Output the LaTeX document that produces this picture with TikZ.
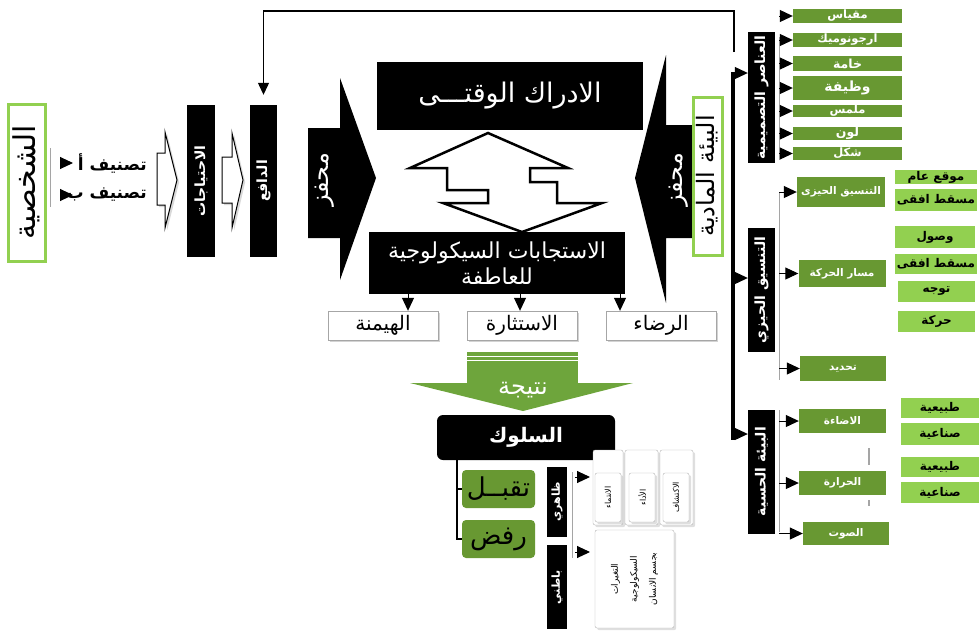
\documentclass[tikz,border=0pt]{standalone}
\usepackage{fontspec}
\newfontfamily\arabicfont[Script=Arabic]{DejaVu Sans}
\TeXXeTstate=1
\usetikzlibrary{arrows.meta,shadows}
\newcommand{\artxt}[1]{{\arabicfont\beginR #1\endR}}

\definecolor{dkgreen}{RGB}{104,152,50}
\definecolor{ltgreen}{RGB}{146,208,80}
\definecolor{arrowgreen}{RGB}{110,165,60}
\definecolor{railgray}{RGB}{165,165,165}

\tikzset{
  blackbar/.style={fill=black, text=white, inner sep=0pt, rotate=90},
  greenframe/.style={draw=ltgreen, line width=3pt, fill=white, inner sep=0pt},
  dkbox/.style={fill=dkgreen, text=white, inner sep=0pt, font=\bfseries\fontsize{10.5}{11}\selectfont},
  ltbox/.style={fill=ltgreen, text=black, inner sep=0pt, font=\bfseries\fontsize{12}{13}\selectfont},
  whitebox/.style={draw=gray!70, fill=white, drop shadow={opacity=0.35}, inner sep=0pt, minimum width=110, minimum height=29, font=\fontsize{20}{22}\selectfont},
  card/.style={draw=gray!60, fill=white, rounded corners=2pt, inner sep=0pt, drop shadow={opacity=0.25}},
  hollow/.style={draw=black, line width=1pt, fill=white, drop shadow={opacity=0.3}},
  rail/.style={draw=railgray, line width=1pt},
  tri/.style={-{Triangle[length=13pt,width=12pt]}, line width=1pt}
}

\begin{document}
\begin{tikzpicture}[x=1pt,y=-1pt]
\useasboundingbox (0,0) rectangle (979,630);

% Left side: personality, classes, needs, drive
\node[greenframe, rotate=90, minimum width=157, minimum height=37, font=\fontsize{30}{32}\selectfont] (shakhsiya) at (26.5,182.5) {\artxt{الشخصية}};
\coordinate (railL) at (50,148);
\coordinate (railLend) at (50,207);
\draw[rail] (railL) -- (railLend);
\node[anchor=east, inner sep=0pt, font=\bfseries\fontsize{17}{18}\selectfont] (classA) at (147,163) {\artxt{تصنيف أ}};
\node[anchor=east, inner sep=0pt, font=\bfseries\fontsize{17}{18}\selectfont] (classB) at (147,195) {\artxt{تصنيف ب}};
\coordinate (bulA) at (73,163);
\coordinate (bulB) at (73,195);
\draw[tri, shorten <=10pt] (railL |- bulA) -- (bulA);
\draw[tri, shorten <=10pt] (railL |- bulB) -- (bulB);

\draw[hollow] (157,153) -- (165,153) -- (165,132) -- (177,180) -- (165,228) -- (165,205) -- (157,205) -- cycle;
\node[blackbar, minimum width=152, minimum height=28, font=\bfseries\fontsize{14}{15}\selectfont] (ihtiyajat) at (201,181) {\artxt{الاحتياجات}};
\draw[hollow] (222,157) -- (232,157) -- (232,133) -- (243,180) -- (232,228) -- (232,203) -- (222,203) -- cycle;
\node[blackbar, minimum width=152, minimum height=27, font=\bfseries\fontsize{14}{15}\selectfont] (dafi3) at (263.5,181) {\artxt{الدافع}};

% Feedback line from the environment side
\coordinate (fbstart) at (734,52);
\coordinate (fbcorner) at (734,11);
\draw[line width=1.2pt, -{Triangle[length=12pt,width=11pt]}] (fbstart) -- (fbcorner) -| ([yshift=10pt]dafi3.east);

% Stimulus arrows
\fill[black] (308,128) -- (340,128) -- (340,78) -- (376,178) -- (340,280) -- (340,238) -- (308,238) -- cycle;
\node[rotate=90, text=white, font=\fontsize{24}{26}\selectfont] (mohafizL) at (325,180) {\artxt{محفز}};
\fill[black] (700,125) -- (666,125) -- (666,55) -- (635,178) -- (666,303) -- (666,238) -- (700,238) -- cycle;
\node[rotate=90, text=white, font=\fontsize{24}{26}\selectfont] (mohafizR) at (679,180) {\artxt{محفز}};

% Center blocks
\node[fill=black, text=white, minimum width=266, minimum height=68, inner sep=0pt, font=\fontsize{27}{29}\selectfont] (idrak) at (510,96) {\artxt{الادراك الوقتـــى}};
\draw[line width=2.5pt, fill=white] (410,168) -- (488,133) -- (568,168) -- (530,168) -- (530,182) -- (557,182) -- (557,203) -- (602,203) -- (522,232) -- (443,203) -- (488,203) -- (488,190) -- (447,190) -- (447,168) -- cycle;
\node[fill=black, text=white, minimum width=256, minimum height=62, inner sep=0pt, align=center, font=\fontsize{22}{26}\selectfont] (istijabat) at (497,263) {\artxt{الاستجابات السيكولوجية}\\\artxt{للعاطفة}};

\node[whitebox] (haymana) at (383,325.5) {\artxt{الهيمنة}};
\node[whitebox] (istithara) at (522,325.5) {\artxt{الاستثارة}};
\node[whitebox] (rida) at (661,325.5) {\artxt{الرضاء}};
\coordinate (tipA) at ([xshift=25pt]haymana.north);
\coordinate (tipB) at ([xshift=-2pt]istithara.north);
\coordinate (tipC) at ([xshift=-41pt]rida.north);
\draw[tri] (tipA |- istijabat.south) -- (tipA);
\draw[tri] (tipB |- istijabat.south) -- (tipB);
\draw[tri] (tipC |- istijabat.south) -- (tipC);

% Result arrow
\fill[arrowgreen] (467,352) rectangle (578,384);
\fill[arrowgreen] (410,383) -- (633,383) -- (523,411) -- cycle;
\draw[white, line width=0.8pt] (467,356) -- (578,356);
\draw[white, line width=0.8pt] (467,360) -- (578,360);
\node[text=white, font=\fontsize{24}{26}\selectfont] (natija) at (523,390) {\artxt{نتيجة}};

% Behaviour
\node[fill=black, text=white, rounded corners=6pt, minimum width=178, minimum height=45, inner sep=0pt, font=\bfseries\fontsize{20}{22}\selectfont] (suluk) at (526,437.5) {\artxt{السلوك}};
\node[fill=dkgreen, rounded corners=4pt, minimum width=73, minimum height=38, inner sep=0pt, font=\fontsize{26}{28}\selectfont] (taqabbul) at (498.5,489) {\artxt{تقبــل}};
\node[fill=dkgreen, rounded corners=4pt, minimum width=73, minimum height=38, inner sep=0pt, font=\fontsize{26}{28}\selectfont] (rafd) at (498.5,539) {\artxt{رفض}};
\coordinate (stem) at (457,460);
\draw[line width=2pt] (stem) |- (taqabbul.west);
\draw[line width=2pt] (stem) |- (rafd.west);

\node[blackbar, minimum width=70, minimum height=20, font=\bfseries\fontsize{11}{12}\selectfont] (zahiri) at (557,502) {\artxt{ظاهري}};
\node[blackbar, minimum width=84, minimum height=20, font=\bfseries\fontsize{11}{12}\selectfont] (batini) at (557,587) {\artxt{باطني}};
\coordinate (railZ) at (572,472);
\coordinate (railZend) at (572,558);
\draw[rail] (railZ) -- (railZend);
\coordinate (outA) at (590,477);
\coordinate (outB) at (590,552);
\draw[tri, shorten <=3pt] (railZ |- outA) -- (outA);
\draw[tri, shorten <=3pt] (railZ |- outB) -- (outB);

\node[card, minimum width=30, minimum height=75] (cardA) at (608,487.5) {};
\node[card, minimum width=33, minimum height=75] (cardB) at (641.5,487.5) {};
\node[card, minimum width=33, minimum height=75] (cardC) at (676.5,487.5) {};
\node[card, rotate=90, minimum width=49, minimum height=26, font=\fontsize{8}{9}\selectfont] (intima) at (608,497.5) {\artxt{الانتماء}};
\node[card, rotate=90, minimum width=49, minimum height=26, font=\fontsize{8}{9}\selectfont] (ada) at (642,497.5) {\artxt{الأداء}};
\node[card, rotate=90, minimum width=49, minimum height=26, font=\fontsize{8}{9}\selectfont] (iktishaf) at (676,497.5) {\artxt{الاكتشاف}};
\node[card, rotate=90, minimum width=98, minimum height=79, align=center, font=\fontsize{9}{19}\selectfont] (taghayyurat) at (634.5,579) {\artxt{التغيرات}\\\artxt{السيكولوجية}\\\artxt{بجسم الانسان}};

% Physical environment
\node[greenframe, rotate=90, minimum width=158, minimum height=29, font=\fontsize{24}{26}\selectfont] (biamadiya) at (707.5,176) {\artxt{البيئة المادية}};
\coordinate (spinetop) at (733,72);
\coordinate (spinebot) at (733,440);
\draw[line width=4pt] (spinetop) -- (spinebot);

\node[blackbar, minimum width=131, minimum height=27, font=\bfseries\fontsize{14}{15}\selectfont] (anasir) at (761.5,97.5) {\artxt{العناصر التصميمية}};
\node[blackbar, minimum width=124, minimum height=27, font=\bfseries\fontsize{14}{15}\selectfont] (tansiq) at (761.5,290) {\artxt{التنسيق الحيزي}};
\node[blackbar, minimum width=124, minimum height=27, font=\bfseries\fontsize{14}{15}\selectfont] (hissiya) at (761.5,471.5) {\artxt{البيئة الحسية}};
\coordinate (spA) at (733,73);
\coordinate (spB) at (733,278);
\coordinate (spC) at (733,434);
\draw[tri] (spA) -- (spA -| anasir.north);
\draw[tri] (spB) -- (spB -| tansiq.north);
\draw[tri] (spC) -- (spC -| hissiya.north);

% Design elements
\coordinate (rail1) at (779,37);
\coordinate (rail1end) at (779,160);
\draw[rail] (rail1) -- (rail1end);
\node[dkbox, minimum width=109, minimum height=14, font=\bfseries\fontsize{11.5}{12}\selectfont] (miqyas) at (847.5,16) {\artxt{مقياس}};
\node[dkbox, minimum width=109, minimum height=14, font=\bfseries\fontsize{11.5}{12}\selectfont] (ergo) at (847.5,40) {\artxt{ارجونوميك}};
\node[dkbox, minimum width=109, minimum height=15, font=\bfseries\fontsize{12.5}{13}\selectfont] (khama) at (847.5,63.5) {\artxt{خامة}};
\node[dkbox, minimum width=109, minimum height=24, font=\bfseries\fontsize{14}{15}\selectfont] (wazifa) at (847.5,88) {\artxt{وظيفة}};
\node[dkbox, minimum width=109, minimum height=12, font=\bfseries\fontsize{11.5}{12}\selectfont] (malmas) at (847.5,111) {\artxt{ملمس}};
\node[dkbox, minimum width=109, minimum height=13, font=\bfseries\fontsize{12.5}{13}\selectfont] (lawn) at (847.5,133.5) {\artxt{لون}};
\node[dkbox, minimum width=109, minimum height=13, font=\bfseries\fontsize{11.5}{12}\selectfont] (shakl) at (847.5,153.5) {\artxt{شكل}};
\foreach \b in {miqyas,ergo,khama,wazifa,malmas,lawn,shakl}
  \draw[tri] (rail1 |- \b.west) -- (\b.west);

% Spatial arrangement
\coordinate (rail2) at (779,193);
\coordinate (rail2end) at (779,380);
\draw[rail] (rail2) -- (rail2end);
\node[dkbox, minimum width=88, minimum height=30] (tansiqbox) at (841,192) {\artxt{التنسيق الحيزى}};
\node[dkbox, minimum width=87, minimum height=27] (masar) at (842,273.5) {\artxt{مسار الحركة}};
\node[dkbox, minimum width=86, minimum height=25] (tahdid) at (843,368.5) {\artxt{تحديد}};
\foreach \b in {tansiqbox,masar,tahdid}
  \draw[tri] (rail2 |- \b.west) -- (\b.west);
\node[ltbox, minimum width=82, minimum height=14] (mawqi3) at (936,177) {\artxt{موقع عام}};
\node[ltbox, minimum width=82, minimum height=22] (masqat1) at (936,200) {\artxt{مسقط افقى}};
\node[ltbox, minimum width=80, minimum height=22] (wusul) at (935,237) {\artxt{وصول}};
\node[ltbox, minimum width=82, minimum height=20] (masqat2) at (936,264) {\artxt{مسقط افقى}};
\node[ltbox, minimum width=77, minimum height=21] (tawajjuh) at (936.5,291.5) {\artxt{توجه}};
\node[ltbox, minimum width=77, minimum height=21] (haraka) at (936.5,321.5) {\artxt{حركة}};

% Sensory environment
\coordinate (rail3) at (779,410);
\coordinate (rail3end) at (779,532);
\draw[rail] (rail3) -- (rail3end);
\node[dkbox, minimum width=87, minimum height=24] (idaa) at (842.5,421) {\artxt{الاضاءة}};
\node[dkbox, minimum width=87, minimum height=24] (harara) at (842.5,483) {\artxt{الحرارة}};
\node[dkbox, minimum width=86, minimum height=23] (sawt) at (846,533.5) {\artxt{الصوت}};
\foreach \b in {idaa,harara,sawt}
  \draw[tri] (rail3 |- \b.west) -- (\b.west);
\node[ltbox, minimum width=78, minimum height=20] (tabi1) at (940,408) {\artxt{طبيعية}};
\node[ltbox, minimum width=78, minimum height=22] (sinai1) at (940,434) {\artxt{صناعية}};
\node[ltbox, minimum width=78, minimum height=20] (tabi2) at (940,467) {\artxt{طبيعية}};
\node[ltbox, minimum width=78, minimum height=21] (sinai2) at (940,492.5) {\artxt{صناعية}};
\draw[rail, line width=1.5pt] (idaa.south -| 869,0) ++(0,15) -- ++(0,17);
\draw[rail, line width=1.5pt] (harara.south -| 869,0) ++(0,5) -- ++(0,6);
\end{tikzpicture}
\end{document}
